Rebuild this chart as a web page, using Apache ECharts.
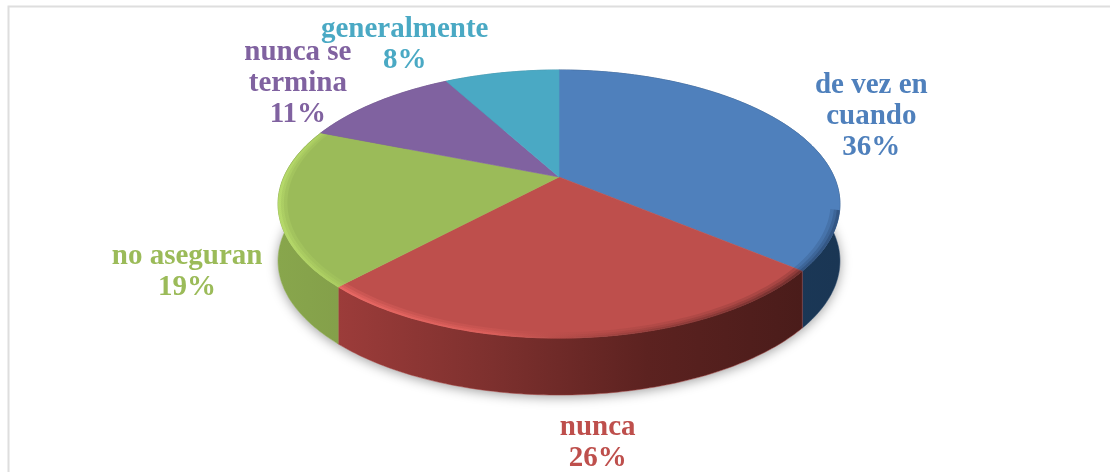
<!DOCTYPE html>
<html><head><meta charset="utf-8">
<style>html,body{margin:0;padding:0;background:#fff}#c{width:1110px;height:472px}</style>
<script src="https://cdn.jsdelivr.net/npm/echarts@6/dist/echarts.min.js"></script>
</head><body><div id="c"></div>
<script>
const categories = ['de vez en\ncuando', 'nunca', 'no aseguran', 'nunca se\ntermina', 'generalmente'];
const values = [36, 26, 19, 11, 8];
const topColors = ['#4f80bc', '#be4f4c', '#9bbb59', '#8062a0', '#4aa9c4'];
const sideStops = [['#1c3d60', '#1a3654'], ['#9c3c3a', '#7d302e', '#5c2220', '#4a1c1a'], ['#88a64c', '#84a04a'], ['#5f4a78', '#5f4a78'], ['#35788c', '#35788c']];
const rimStops = [['rgba(30,55,90,0.8)', 'rgba(30,55,90,0.8)'], ['rgba(252,115,110,1)', 'rgba(240,105,100,0.8)', 'rgba(90,35,33,0.5)', 'rgba(50,20,20,0.75)'], ['rgba(195,232,115,1)', 'rgba(180,215,100,0.9)'], ['rgba(0,0,0,0)', 'rgba(0,0,0,0)'], ['rgba(0,0,0,0)', 'rgba(0,0,0,0)']];
const labelOffsets = [[83, -10], [17, 105], [-91, 66], [-79, -18], [-97, -28]];

const cx = 559, cy = 177, A = 275.2, B = 128.6, K = 0.2015, DEPTH = 57;
const RIM_FROM = 104 / 180 * Math.PI, RIM_TO = 295 / 180 * Math.PI;
const total = values.reduce((a, b) => a + b, 0);
function proj(t, dy, r) {
  const R = r === undefined ? 1 : r;
  const u = R * Math.sin(t), v = R * Math.cos(t), w = 1 + K * v;
  return [cx + A * u / w, cy - B * v / w + (dy || 0)];
}
function arc(a0, a1, dy, r) {
  const n = Math.max(4, Math.ceil((a1 - a0) * 60)), out = [];
  for (let i = 0; i <= n; i++) out.push(proj(a0 + (a1 - a0) * i / n, dy, r));
  return out;
}
function hGrad(stops, x0, x1) {
  const s = stops.map((color, k) => ({offset: k / (stops.length - 1), color}));
  return new echarts.graphic.LinearGradient(x0, 0, x1, 0, s, true);
}
function renderItem(params, api) {
  const i = params.dataIndex;
  const before = values.slice(0, i).reduce((a, b) => a + b, 0);
  const a0 = before / total * 2 * Math.PI;
  const a1 = (before + api.value(0)) / total * 2 * Math.PI;
  const rim = arc(a0, a1, 0);
  const low = arc(a0, a1, DEPTH).reverse();
  const mid = proj((a0 + a1) / 2);
  const off = labelOffsets[i];
  const xs = rim.map(p => p[0]);
  const x0 = Math.min(...xs), x1 = Math.max(...xs);
  const children = [
    {type: 'polygon', z2: 2, shape: {points: rim.concat(low)}, style: {fill: hGrad(sideStops[i], x0, x1), stroke: sideStops[i][0], lineWidth: 0.5}},
    {type: 'polygon', z2: 4, shape: {points: [[cx, cy]].concat(rim)}, style: {fill: topColors[i], stroke: topColors[i], lineWidth: 0.6}},
    {type: 'text', z2: 8, x: mid[0] + off[0], y: mid[1] + off[1], style: {
      text: categories[i] + '\n' + api.value(0) + '%', fill: topColors[i],
      font: 'bold 29px "Liberation Serif"', lineHeight: 31, align: 'center', verticalAlign: 'middle'}}
  ];
  const r0 = Math.max(a0, RIM_FROM), r1 = Math.min(a1, RIM_TO);
  if (r1 > r0) {
    const grad = hGrad(rimStops[i], x0, x1);
    const outer = arc(r0, r1, 0.5, 1);
    [[0.968, 0.22], [0.98, 0.28], [0.99, 0.4]].forEach(([r, opacity], k) => {
      const inner = arc(r0, r1, 0.5, r).reverse();
      children.push({type: 'polygon', z2: 5 + k, shape: {points: outer.concat(inner)}, style: {fill: grad, opacity}});
    });
  }
  if (i === 0) {
    children.unshift({type: 'polygon', z2: 0, shape: {points: arc(0, 2 * Math.PI, DEPTH)},
      style: {fill: '#fff', shadowBlur: 12, shadowColor: 'rgba(0,0,0,0.38)', shadowOffsetY: 2}});
  }
  return {type: 'group', children};
}
const chart = echarts.init(document.getElementById('c'), null, {renderer: 'canvas'});
chart.setOption({
  animation: false,
  graphic: [{type: 'rect', z: -1, shape: {x: 8.5, y: 6.5, width: 1120, height: 480}, style: {fill: null, stroke: '#dedede', lineWidth: 2}}],
  series: [{type: 'custom', coordinateSystem: 'none', renderItem, silent: true,
    data: values.map((v, i) => ({name: categories[i], value: [v]}))}]
});
</script></body></html>
